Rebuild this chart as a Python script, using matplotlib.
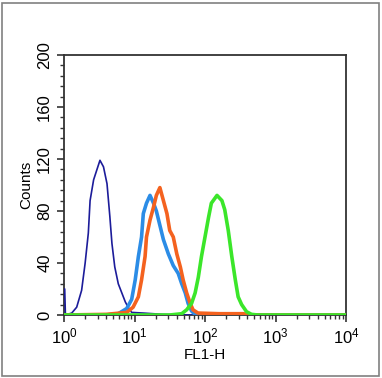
import numpy as np
import matplotlib.pyplot as plt
from matplotlib.ticker import MultipleLocator, LogLocator
from matplotlib.patches import Rectangle

plt.rcParams['font.family'] = ['Liberation Sans', 'DejaVu Sans']
plt.rcParams['mathtext.fontset'] = 'custom'
plt.rcParams['mathtext.rm'] = 'Liberation Sans'

# log10(FL1-H) positions and counts
navy_x = [0.0, 0.01, 0.02, 0.11, 0.18, 0.25, 0.30, 0.345, 0.37, 0.42, 0.51, 0.56, 0.61, 0.65,
          0.68, 0.72, 0.77, 0.82, 0.87, 0.91, 0.96, 1.12, 1.4, 1.8, 4.0]
navy_y = [20, 20, 0, 1.5, 6, 19, 40, 63, 88, 104, 119, 114, 101, 76,
          55, 37, 24, 17, 10, 6, 2, 1.5, 0.5, 0, 0]

blue_x = [0.0, 0.6, 0.77, 0.89, 0.96, 1.01, 1.055, 1.10, 1.125, 1.17, 1.22, 1.27, 1.31, 1.36,
          1.41, 1.48, 1.55, 1.62, 1.67, 1.72, 1.76, 1.81, 1.86, 1.95, 4.0]
blue_y = [0, 0, 1, 5, 12, 27, 45, 60, 78, 86, 92, 86, 80, 69,
          58, 47, 38, 32, 24, 17, 9, 3, 0.5, 0, 0]

orange_x = [0.0, 0.6, 0.89, 0.98, 1.055, 1.10, 1.15, 1.17, 1.22, 1.27, 1.31, 1.36, 1.41, 1.46,
            1.50, 1.55, 1.60, 1.65, 1.69, 1.74, 1.79, 1.83, 1.90, 2.2, 2.55, 2.6, 4.0]
orange_y = [0, 0.5, 2, 6, 14, 27, 45, 60, 73, 83, 92, 98, 88, 78,
            65, 60, 47, 37, 27, 17, 9, 4, 1.5, 1, 1, 0, 0]

green_x = [0.0, 1.5, 1.67, 1.74, 1.81, 1.86, 1.905, 1.95, 2.0, 2.05, 2.09, 2.17, 2.24, 2.28,
           2.33, 2.38, 2.43, 2.47, 2.52, 2.59, 2.66, 2.75, 4.0]
green_y = [0, 0, 1, 4, 9, 17, 29, 45, 60, 75, 86, 92, 88, 81,
           65, 45, 27, 14, 8, 2.5, 0.5, 0, 0]

fig = plt.figure(figsize=(3.82, 3.78), dpi=100)
fig.patches.append(Rectangle((2 / 382, 2 / 378), 377 / 382, 373 / 378, transform=fig.transFigure,
                             fill=False, edgecolor='#808080', lw=1.2))

ax = fig.add_axes([64 / 382, 1 - 315 / 378, 282 / 382, 260 / 378])

ax.plot(10 ** np.array(navy_x), navy_y, color='#1c1c9a', lw=1.2, zorder=3)
ax.plot(10 ** np.array(blue_x), blue_y, color='#2b8ce6', lw=2.6, zorder=4)
ax.plot(10 ** np.array(orange_x), orange_y, color='#f4621f', lw=2.6, zorder=5)
ax.plot(10 ** np.array(green_x), green_y, color='#3be62a', lw=2.6, zorder=6)

ax.set_xscale('log')
ax.set_xlim(1, 1e4)
ax.set_ylim(0, 200)
ax.yaxis.set_major_locator(MultipleLocator(40))
ax.yaxis.set_minor_locator(MultipleLocator(8))
ax.xaxis.set_major_locator(LogLocator(base=10))
ax.xaxis.set_minor_locator(LogLocator(base=10, subs=np.arange(2, 10)))

for s in ax.spines.values():
    s.set_color('#333333')
    s.set_linewidth(1.3)

ax.tick_params(axis='both', which='major', direction='out', length=5, width=1.2,
               labelsize=12, colors='#333333', labelcolor='black', top=False, right=False)
ax.tick_params(axis='both', which='minor', direction='out', length=3, width=1,
               colors='#333333', top=False, right=False)
for lab in ax.get_yticklabels():
    lab.set_rotation(90)
    lab.set_va('center')

ax.set_ylabel('Counts', fontsize=11, labelpad=3)
ax.set_xlabel('FL1-H', fontsize=11, labelpad=1)

fig.savefig('out.png', dpi=100)
